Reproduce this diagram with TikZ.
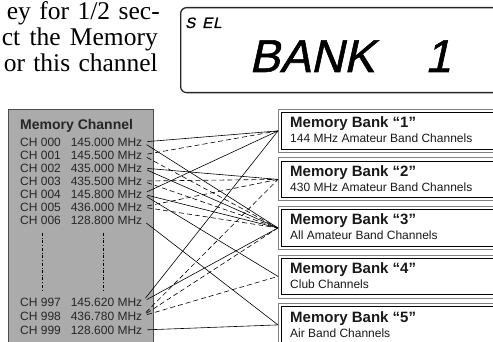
\documentclass[tikz,border=0pt]{standalone}
\usepackage{fontspec}
\setmainfont{Liberation Serif}
\setsansfont{Liberation Sans}
\newfontfamily\lcdfont[FakeSlant=0.22, FakeBold=1.2]{Liberation Sans}
\usetikzlibrary{positioning}

\tikzset{
    testo/.style={anchor=base east, inner sep=0pt, font=\fontsize{25.5}{25.5}\selectfont},
    lcdbox/.style={draw=black!85, line width=1.3pt, rounded corners=6pt, anchor=north west, minimum width=360pt, minimum height=85pt},
    chanbox/.style={draw=black!70, fill=black!33, line width=0.8pt, anchor=north west, minimum width=145pt, minimum height=260pt},
    chanrow/.style={anchor=west, inner sep=0pt, text=black!85, font=\sffamily\fontsize{12}{12}\selectfont},
    bankbox/.style={draw=black!50, line width=0.8pt, anchor=north west, minimum width=240pt, minimum height=43pt, inner sep=0pt},
    banklabel/.style={anchor=base west, inner sep=0pt, text=black!90, font=\sffamily\bfseries\fontsize{15}{15}\selectfont},
    banknote/.style={anchor=base west, inner sep=0pt, text=black!90, font=\sffamily\fontsize{12}{12}\selectfont},
    link/.style={line width=0.6pt, shorten <=5pt},
    dlink/.style={link, dash pattern=on 5pt off 3pt},
}

\begin{document}
\begin{tikzpicture}[x=1pt, y=-1pt]
    \useasboundingbox (0,0) rectangle (493,342);
    \clip (0,0) rectangle (493,342);

    % Testo
    \node[testo] (riga1) at (160,20) {\makebox[153pt][s]{ey for 1/2 sec-}};
    \node[testo] (riga2) at (158,46) {\makebox[156pt][s]{ct the Memory}};
    \node[testo] (riga3) at (158,72) {\makebox[154pt][s]{or this channel}};

    % Display
    \node[lcdbox] (lcd) at (180,7) {};
    \node[anchor=base west, inner sep=0pt, font=\lcdfont\fontsize{15}{15}\selectfont] (sel) at (185,28) {S\hspace{7pt}E\hspace{1pt}L};
    \node[anchor=base west, inner sep=0pt, font=\lcdfont\fontsize{46}{46}\selectfont] (bank) at (249,72) {BANK};
    \node[anchor=base west, inner sep=0pt, font=\lcdfont\fontsize{46}{46}\selectfont] (numero) at (425,72) {1};

    % Canali
    \node[chanbox] (canali) at (8,109) {};
    \node[anchor=base west, inner sep=0pt, text=black!85, font=\sffamily\bfseries\fontsize{14}{14}\selectfont] (titolo) at (20,130) {Memory Channel};
    \foreach \n/\f/\y in {000/145.000/142, 001/145.500/155, 002/435.000/168, 003/435.500/181,
                          004/145.800/194, 005/436.000/207, 006/128.800/220,
                          997/145.620/302, 998/436.780/316, 999/128.600/330}
        \node[chanrow] (c\n) at (20,\y) {\makebox[122pt]{CH \n\hfill\f\ MHz}};

    % Puntini
    \draw[dashdotted, line width=0.5pt] (42,233) -- (42,292);
    \draw[dashdotted, line width=0.5pt] (103,233) -- (103,292);

    % Banchi
    \foreach \i/\s [evaluate=\i as \y using 109+(\i-1)*48.5] in
        {1/144 MHz Amateur Band Channels, 2/430 MHz Amateur Band Channels,
         3/All Amateur Band Channels, 4/Club Channels, 5/Air Band Channels} {
        \node[bankbox] (b\i) at (278,\y) {};
        \draw[black, line width=0.8pt] ([shift={(3.5,3.5)}]b\i.north west) rectangle ([shift={(-3.5,-3.5)}]b\i.south east);
        \node[banklabel] (t\i) at ([shift={(12,19)}]b\i.north west) {Memory Bank “\i”};
        \node[banknote] (s\i) at ([shift={(12,34)}]b\i.north west) {\s};
    }

    % Collegamenti
    \foreach \a/\b in {000/1, 000/3, 002/2, 002/3, 004/1, 004/3, 004/4, 006/5, 997/1, 997/3, 999/5}
        \draw[link] (c\a.east) -- (b\b.west);
    \foreach \a/\b in {001/1, 001/3, 003/2, 003/3, 005/2, 005/3, 998/2, 998/3, 998/4}
        \draw[dlink] (c\a.east) -- (b\b.west);

\end{tikzpicture}
\end{document}
